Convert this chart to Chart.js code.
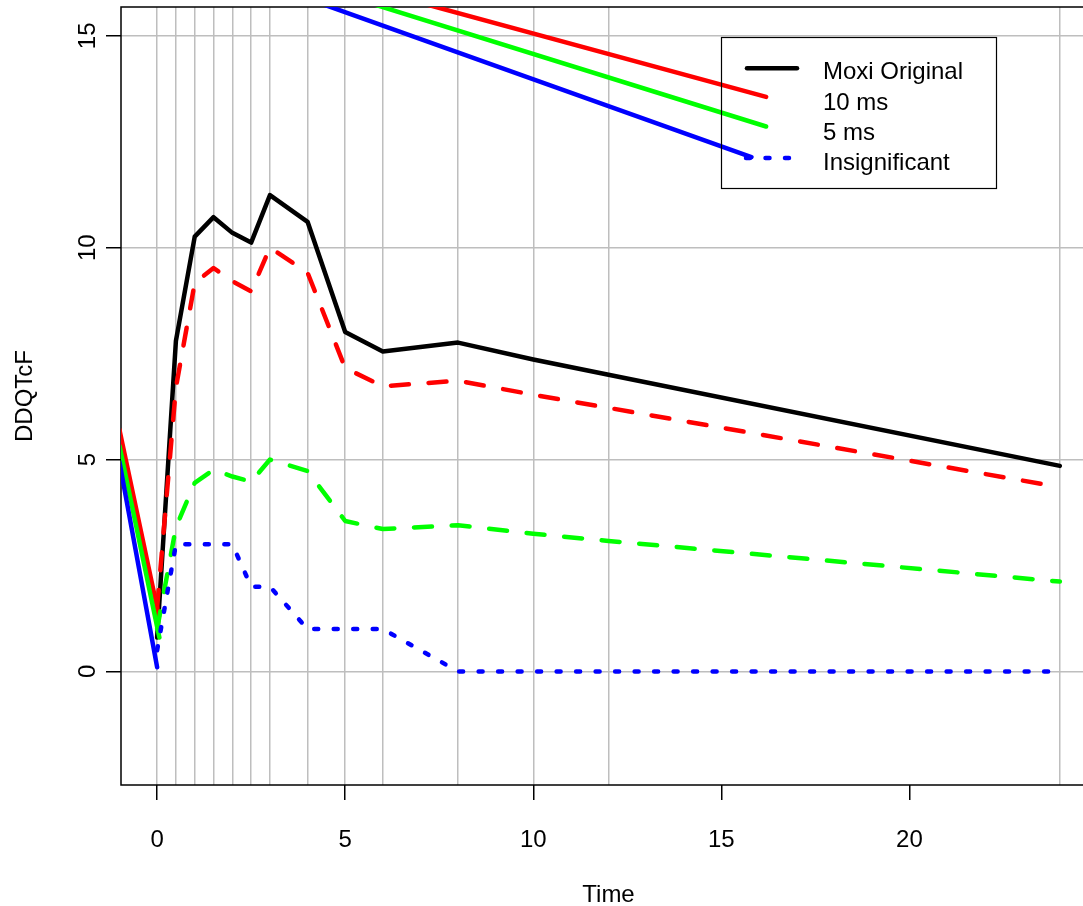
<!DOCTYPE html>
<html><head><meta charset="utf-8">
<script src="https://cdn.jsdelivr.net/npm/chart.js@4.4.0/dist/chart.umd.min.js"></script>
<style>
html,body{margin:0;padding:0;overflow:hidden;background:#fff;}
#wrap{position:relative;width:1100px;height:906px;}
canvas{display:block;}
</style></head><body>
<div id="wrap"><canvas id="c" width="1100" height="906"></canvas></div>
<script>
// ---- data ----
const times = [0, 0.5, 1, 1.5, 2, 2.5, 3, 4, 5, 6, 8, 10, 12, 24];
const moxiOriginal = [0.8, 7.8, 10.26, 10.72, 10.35, 10.12, 11.24, 10.61, 8.01, 7.55, 7.76, 7.36, 7.0, 4.85];
const ms10 = [1.5, 6.7, 9.17, 9.52, 9.21, 8.97, 10.0, 9.41, 7.16, 6.73, 6.86, 6.53, 6.22, 4.35];
const ms5 = [1.0, 3.4, 4.45, 4.76, 4.6, 4.48, 5.0, 4.73, 3.55, 3.36, 3.45, 3.25, 3.08, 2.12];
const insignificant = [0.5, 3, 3, 3, 3, 2, 2, 1, 1, 1, 0, 0, 0, 0];
// stray solid segments seen in the picture
const redLeftX = [-1, 0.05], redLeftY = [5.7, 1.3];
const greenLeftX = [-1, 0.06], greenLeftY = [5.32, 0.8];
const blueLeftX = [-1, 0], blueLeftY = [4.94, 0.1];
const redTopX = [6, 16.19], redTopY = [16.02, 13.56];
const greenTopX = [4, 16.19], greenTopY = [16.23, 12.86];
const blueTopX = [3, 15.8], blueTopY = [16.19, 12.14];
const xTickLabels = [0, 5, 10, 15, 20];
const yTickLabels = [0, 5, 10, 15];
const legendLabels = ['Moxi Original', '10 ms', '5 ms', 'Insignificant'];

const FONT = '24px "Liberation Sans", Arial, sans-serif';
const pts = (xs, ys) => xs.map((x, i) => ({x: x, y: ys[i]}));
const LW = 4.5;
const mk = (label, data, color, dash, order) => ({
  label, data, borderColor: color, borderWidth: LW, borderDash: dash,
  borderCapStyle: 'round', borderJoinStyle: 'round',
  pointRadius: 0, tension: 0, fill: false, clip: 0, order
});

const decorations = {
  id: 'decorations',
  beforeDatasetsDraw(chart) {
    const {ctx, chartArea: a} = chart;
    ctx.save();
    ctx.strokeStyle = '#000';
    ctx.lineWidth = 1.5;
    ctx.strokeRect(a.left, a.top, a.right - a.left, a.bottom - a.top);
    ctx.restore();
  },
  afterDraw(chart) {
    const {ctx, chartArea: a, scales: {x, y}} = chart;
    ctx.save();
    ctx.fillStyle = '#000';
    ctx.font = FONT;
    // x tick labels
    ctx.textAlign = 'center';
    ctx.textBaseline = 'alphabetic';
    xTickLabels.forEach(v => ctx.fillText(String(v), x.getPixelForValue(v), 847));
    // x title
    ctx.fillText('Time', (a.left + a.right) / 2, 902);
    // y tick labels, rotated
    yTickLabels.forEach(v => {
      ctx.save();
      ctx.translate(95, y.getPixelForValue(v));
      ctx.rotate(-Math.PI / 2);
      ctx.fillText(String(v), 0, 0);
      ctx.restore();
    });
    ctx.save();
    ctx.translate(32, (a.top + a.bottom) / 2);
    ctx.rotate(-Math.PI / 2);
    ctx.fillText('DDQTcF', 0, 0);
    ctx.restore();
    // legend
    ctx.lineWidth = 1.2;
    ctx.strokeStyle = '#000';
    ctx.strokeRect(721.5, 37.5, 275, 151);
    ctx.lineCap = 'round';
    ctx.lineWidth = LW;
    ctx.beginPath(); ctx.moveTo(747, 68.3); ctx.lineTo(797, 68.3); ctx.stroke();
    ctx.strokeStyle = '#0000ff';
    ctx.setLineDash([4, 15.5]);
    ctx.beginPath(); ctx.moveTo(746, 158); ctx.lineTo(797, 158); ctx.stroke();
    ctx.setLineDash([]);
    ctx.textAlign = 'left';
    const base = [79.3, 109.5, 139.5, 169.5];
    legendLabels.forEach((t, i) => ctx.fillText(t, 823, base[i]));
    ctx.restore();
  }
};

new Chart(document.getElementById('c'), {
  type: 'line',
  data: {
    datasets: [
      mk('Moxi Original', pts(times, moxiOriginal), '#000000', [], 3),
      mk('10 ms', pts(times, ms10), '#ff0000', [18, 19.7], 2),
      mk('5 ms', pts(times, ms5), '#00ff00', [18, 19.7], 1),
      mk('Insignificant', pts(times, insignificant), '#0000ff', [4, 15.5], 0),
      mk('r-left', pts(redLeftX, redLeftY), '#ff0000', [], 2),
      mk('g-left', pts(greenLeftX, greenLeftY), '#00ff00', [], 1),
      mk('b-left', pts(blueLeftX, blueLeftY), '#0000ff', [], 0),
      mk('r-top', pts(redTopX, redTopY), '#ff0000', [], 2),
      mk('g-top', pts(greenTopX, greenTopY), '#00ff00', [], 1),
      mk('b-top', pts(blueTopX, blueTopY), '#0000ff', [], 0)
    ]
  },
  options: {
    responsive: false,
    animation: false,
    events: [],
    layout: {padding: {left: 0, top: 7, right: 4, bottom: 0}},
    plugins: {legend: {display: false}, tooltip: {enabled: false}},
    scales: {
      x: {
        type: 'linear', min: -0.96, max: 24.96,
        afterBuildTicks: s => { s.ticks = [...new Set(times.concat(xTickLabels))].sort((a, b) => a - b).map(v => ({value: v})); },
        afterFit: s => { s.height = 121; },
        ticks: {display: false},
        border: {display: false},
        grid: {
          lineWidth: 1.5,
          color: c => (c.tick && times.includes(c.tick.value)) ? '#bebebe' : 'rgba(0,0,0,0)',
          tickColor: c => (c.tick && xTickLabels.includes(c.tick.value)) ? '#000' : 'rgba(0,0,0,0)',
          tickWidth: 1.5, tickLength: 15, drawTicks: true
        }
      },
      y: {
        type: 'linear', min: -2.68, max: 15.68,
        afterBuildTicks: s => { s.ticks = yTickLabels.map(v => ({value: v})); },
        afterFit: s => { s.width = 121; },
        ticks: {display: false},
        border: {display: false},
        grid: {lineWidth: 1.5, color: '#bebebe', tickColor: '#000', tickWidth: 1.5, tickLength: 15, drawTicks: true}
      }
    }
  },
  plugins: [decorations]
});
</script>
</body></html>
